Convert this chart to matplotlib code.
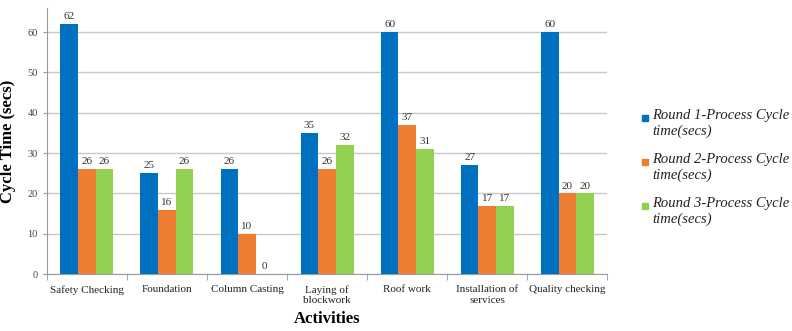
import numpy as np
import matplotlib.pyplot as plt
from matplotlib.patches import Rectangle

plt.rcParams['font.family'] = ['Liberation Serif', 'DejaVu Serif']

activities = ['Safety Checking', 'Foundation', 'Column Casting', 'Laying of\nblockwork',
              'Roof work', 'Installation of\nservices', 'Quality checking']
round1 = [62, 25, 26, 35, 60, 27, 60]
round2 = [26, 16, 10, 26, 37, 17, 20]
round3 = [26, 26, 0, 32, 31, 17, 20]
series_labels = ['Round 1-Process Cycle\ntime(secs)',
                 'Round 2-Process Cycle\ntime(secs)',
                 'Round 3-Process Cycle\ntime(secs)']
colors = ['#0070C0', '#ED7D31', '#92D050']

fig = plt.figure(figsize=(7.92, 3.31), dpi=100)
ax = fig.add_axes([0.059, 0.172, 0.708, 0.804])

x = np.arange(len(activities))
w = 0.22
for k, (vals, c) in enumerate(zip([round1, round2, round3], colors)):
    bars = ax.bar(x + (k - 1) * w, vals, w, color=c, zorder=3)
    ax.bar_label(bars, labels=[str(v) for v in vals], padding=2, fontsize=8, color='#333333')

ax.set_xlim(-0.5, len(activities) - 0.5)
ax.set_ylim(0, 66)
ax.set_yticks(range(0, 61, 10))
ax.yaxis.grid(True, color='#c8c8c8', linewidth=1, zorder=0)
ax.tick_params(axis='y', labelsize=7.5, colors='#444444', length=3, color='#999999')

# category labels centred, tick marks between groups
ax.set_xticks(x)
ax.set_xticklabels(activities, fontsize=8, color='#222222')
ax.tick_params(axis='x', length=0, pad=8)
ax.set_xticks(np.arange(len(activities) + 1) - 0.5, minor=True)
ax.tick_params(axis='x', which='minor', length=4, color='#999999')

for s in ['top', 'right']:
    ax.spines[s].set_visible(False)
for s in ['left', 'bottom']:
    ax.spines[s].set_color('#999999')

ax.set_ylabel('Cycle Time (secs)', fontsize=12, fontweight='bold', labelpad=8)
ax.set_xlabel('Activities', fontsize=12, fontweight='bold', labelpad=4)

# legend on the right
W, H = 792, 331
for i, (lab, c) in enumerate(zip(series_labels, colors)):
    ytop = 118 + i * 44
    fig.add_artist(Rectangle((642 / W, 1 - (ytop + 3) / H), 6 / W, 6 / H,
                             transform=fig.transFigure, color=c))
    fig.text(652 / W, 1 - (ytop - 9) / H, lab, fontsize=10.5, style='italic',
             color='#222222', va='top', ha='left', linespacing=1.2)

fig.savefig('out.png', dpi=100)
